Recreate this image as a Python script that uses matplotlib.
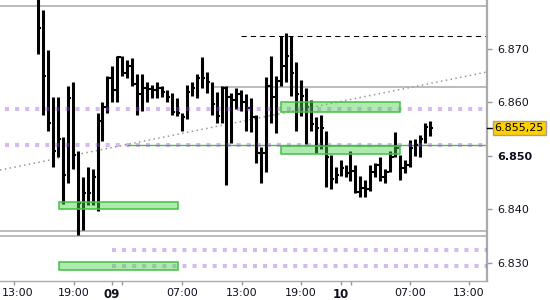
import matplotlib.pyplot as plt
from matplotlib.patches import Rectangle
from matplotlib.ticker import FuncFormatter
from matplotlib.transforms import ScaledTranslation

# 30-minute bars, price in index points
highs = [6880.0, 6877.25, 6869.75, 6861.0, 6861.0, 6853.5, 6863.0, 6863.75, 6851.0, 6846.0,
         6848.0, 6847.5, 6858.0, 6860.0, 6865.0, 6866.75, 6868.75, 6868.75, 6868.0, 6868.25,
         6865.25, 6865.25, 6863.75, 6863.25, 6863.75, 6863.0, 6862.25, 6861.75, 6860.75, 6858.0,
         6863.25, 6863.75, 6865.25, 6868.5, 6865.75, 6863.75, 6862.0, 6863.0, 6863.0, 6861.75,
         6862.75, 6862.25, 6861.5, 6860.75, 6857.75, 6851.75, 6864.75, 6868.75, 6865.0, 6872.5,
         6873.0, 6872.5, 6867.5, 6864.25, 6862.75, 6860.5, 6857.25, 6857.75, 6854.75, 6850.25,
         6848.0, 6849.25, 6848.25, 6851.0, 6848.25, 6846.25, 6845.5, 6848.25, 6848.75, 6849.75,
         6847.5, 6851.0, 6854.5, 6850.25, 6849.25, 6853.0, 6853.25, 6854.0, 6856.25, 6856.5]
lows = [6869.0, 6857.75, 6854.75, 6848.0, 6849.75, 6841.0, 6845.0, 6847.5, 6835.25, 6836.25,
        6840.75, 6840.75, 6839.75, 6852.75, 6858.0, 6860.0, 6860.0, 6865.0, 6864.5, 6863.0,
        6857.75, 6858.5, 6860.0, 6860.75, 6860.75, 6861.0, 6860.0, 6857.75, 6857.5, 6854.75,
        6857.0, 6861.25, 6860.75, 6862.75, 6861.75, 6857.75, 6856.25, 6856.25, 6844.5, 6852.5,
        6858.75, 6858.5, 6854.75, 6854.5, 6848.75, 6845.0, 6847.0, 6856.25, 6854.25, 6863.0,
        6863.75, 6861.25, 6854.75, 6857.5, 6852.25, 6854.75, 6850.5, 6851.25, 6844.25, 6843.75,
        6845.0, 6846.25, 6846.0, 6845.25, 6843.0, 6842.25, 6842.25, 6843.5, 6846.0, 6845.25,
        6845.0, 6847.0, 6849.75, 6845.5, 6846.75, 6848.0, 6850.0, 6849.75, 6852.5, 6853.75]
closes = [6874.0, 6865.0, 6856.25, 6851.0, 6853.25, 6846.5, 6860.75, 6850.25, 6841.25, 6843.0,
          6843.0, 6846.0, 6856.5, 6859.25, 6864.5, 6862.25, 6868.5, 6865.5, 6866.75, 6863.5,
          6861.5, 6862.75, 6862.5, 6862.25, 6862.75, 6862.0, 6861.0, 6858.25, 6858.0, 6857.25,
          6862.0, 6862.75, 6864.5, 6864.5, 6863.75, 6859.75, 6857.5, 6862.75, 6861.0, 6860.5,
          6861.5, 6860.0, 6859.0, 6857.25, 6850.5, 6850.5, 6863.0, 6861.0, 6864.0, 6866.75,
          6868.75, 6865.5, 6861.5, 6861.25, 6859.25, 6856.0, 6855.25, 6855.25, 6849.75, 6845.75,
          6846.5, 6847.75, 6846.75, 6847.25, 6843.25, 6844.0, 6843.75, 6847.0, 6848.25, 6846.0,
          6847.0, 6849.75, 6851.5, 6847.75, 6848.25, 6851.5, 6852.0, 6853.25, 6855.5, 6855.25]

last_price = 6855.25
time_labels = ['13:00', '19:00', '09', '', '07:00', '13:00', '19:00', '10', '', '07:00', '13:00']
time_pos = [-4.84, 7.26, 14.92, 16.94, 29.03, 41.13, 53.02, 61.09, 63.10, 75.0, 86.9]

# horizontal levels: (price, start bar)
gray_levels = [(6878.0, -8), (6862.85, 34.9), (6836.0, -8), (6835.1, -8)]
dashed_level = (6872.4, 40.9)
purple_levels = [(6858.75, -6.65), (6852.0, -6.65), (6832.5, 14.9), (6829.5, 14.9)]
green_level = (6852.0, 17.9)
trend = [(0, 6848.8), (79, 6863.55)]
zones = [(4.2, 28.2, 6840.15, 6841.45), (4.2, 28.2, 6828.6, 6830.25),
         (49.0, 73.0, 6858.3, 6860.05), (49.0, 73.0, 6850.35, 6851.95)]

fig = plt.figure(figsize=(5.5, 3), dpi=100)
ax = fig.add_axes([0, 19 / 300, 487 / 550, 281 / 300])
x0, x1 = -7.66, 90.52
ax.set_xlim(x0, x1)
ax.set_ylim(6826.63, 6879.16)

for p, s in gray_levels:
    ax.hlines(p, s, x1, color='#aaaaaa', lw=1.1, zorder=1)
ax.hlines(dashed_level[0], dashed_level[1], x1, color='black', lw=0.75,
          linestyles=(0, (5, 4)), zorder=1)
ax.hlines(green_level[0], green_level[1], x1, color='#44c044', lw=1.0, zorder=1)

# trend line extended to the edges
(ta, pa), (tb, pb) = trend
slope = (pb - pa) / (tb - ta)
ax.plot([x0, x1], [pa + slope * (x0 - ta), pa + slope * (x1 - ta)],
        color='#999999', lw=1.1, linestyle=(0, (1, 2.2)), zorder=2)

idx = list(range(len(highs)))
ax.vlines(idx, lows, highs, color='black', lw=2.2, zorder=3)
ax.hlines(closes, idx, [i + 0.7 for i in idx], color='black', lw=1.5, zorder=3)

for p, s in purple_levels:
    ax.hlines(p, s, x1, color='#9a52d8', alpha=0.4, lw=2.9,
              linestyles=(0, (1, 1.5)), zorder=4)

for a, b, lo, hi in zones:
    ax.add_patch(Rectangle((a, lo), b - a, hi - lo, facecolor='#50d050', alpha=0.45,
                           edgecolor='none', zorder=5))
    ax.add_patch(Rectangle((a, lo), b - a, hi - lo, facecolor='none',
                           edgecolor='#44c044', lw=1.1, zorder=5))

ax.yaxis.tick_right()
ax.set_yticks([6830, 6840, 6850, 6860, 6870])
ax.yaxis.set_major_formatter(FuncFormatter(lambda v, _: f'{v / 1000:.3f}'))
ax.tick_params(axis='y', length=3.6, width=1, color='#999999', pad=3.6,
               labelsize=8, labelcolor='#101020')
for t in ax.get_yticklabels():
    if t.get_text() == '6.850':
        t.set_fontweight('bold')

ax.set_xticks(time_pos)
ax.set_xticklabels(time_labels)
ax.tick_params(axis='x', length=3, width=1, color='#999999', pad=2,
               labelsize=8, labelcolor='#101020')
for t in ax.get_xticklabels():
    if t.get_text() in ('09', '10'):
        t.set_fontweight('bold')
        t.set_fontsize(8.5)
# first label sits against the left edge
first = ax.get_xticklabels()[0]
first.set_transform(first.get_transform() + ScaledTranslation(2.5 / 72, 0, fig.dpi_scale_trans))

for side in ('left', 'top'):
    ax.spines[side].set_visible(False)
ax.spines['right'].set_color('#aaaaaa')
ax.spines['right'].set_linewidth(1.6)
ax.spines['bottom'].set_color('#aaaaaa')
ax.spines['bottom'].set_linewidth(1.0)

# last price marker
ax.plot([1.0, 1.0105], [last_price, last_price], color='black', lw=1.0,
        transform=ax.get_yaxis_transform(), clip_on=False, zorder=6)
ax.text(1.0155, last_price, f'6.855,{int(round((last_price % 1) * 100)):02d}',
        transform=ax.get_yaxis_transform(), va='center', ha='left', fontsize=8,
        color='black', zorder=7,
        bbox=dict(boxstyle='square,pad=0.18', facecolor='#ffd000', edgecolor='#a0a0a0', lw=1))

fig.savefig('out.png', dpi=100)
